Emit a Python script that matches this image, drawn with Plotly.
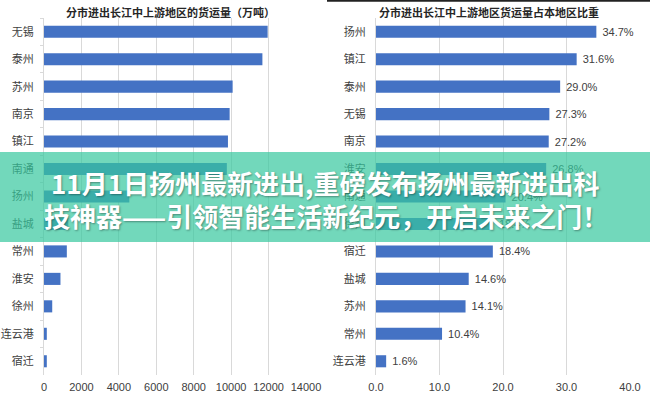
import plotly.graph_objects as go

W, H = 650, 395

# ---- data ----
left_cities = ["无锡", "泰州", "苏州", "南京", "镇江", "南通", "扬州", "盐城", "常州", "淮安", "徐州", "连云港", "宿迁"]
left_values = [11950, 11670, 10080, 9920, 9830, 9770, 4560, 1300, 1220, 880, 440, 150, 150]
left_ticks = [0, 2000, 4000, 6000, 8000, 10000, 12000, 14000]

right_cities = ["扬州", "镇江", "泰州", "无锡", "南京", "淮安", "南通", "徐州", "宿迁", "盐城", "苏州", "常州", "连云港"]
right_values = [34.7, 31.6, 29.0, 27.3, 27.2, 26.8, 20.4, 18.4, 18.4, 14.6, 14.1, 10.4, 1.6]
right_ticks = [0, 10, 20, 30, 40]

left_title = "分市进出长江中上游地区的货运量（万吨）"
right_title = "分市进出长江中上游地区货运量占本地区比重"
banner_line1 = "11月1日扬州最新进出,重磅发布扬州最新进出科"
banner_line2 = "技神器——引领智能生活新纪元，开启未来之门！"

FONT = "Arial, 'Liberation Sans', 'Noto Sans CJK SC', sans-serif"
CJK = "'Noto Sans CJK SC', sans-serif"
BAR = "#4472C4"
GRID = "#D9D9D9"
LABEL = "#404040"


def px_x(p):
    return p / W


def px_y(p):
    return 1 - p / H


fig = go.Figure()
fig.add_trace(go.Bar(
    x=left_values, y=left_cities, orientation="h", width=0.44,
    marker=dict(color=BAR, line=dict(width=0)), xaxis="x", yaxis="y",
    hoverinfo="skip", showlegend=False,
))
fig.add_trace(go.Bar(
    x=right_values, y=right_cities, orientation="h", width=0.44,
    marker=dict(color=BAR, line=dict(width=0)), xaxis="x2", yaxis="y2",
    text=[f"\u00a0{v:.1f}%" for v in right_values], textposition="outside",
    textfont=dict(family=FONT, size=11, color=LABEL), cliponaxis=False,
    hoverinfo="skip", showlegend=False,
))

ydom = [px_y(375), px_y(18)]
fig.update_layout(
    width=W, height=H,
    margin=dict(l=0, r=0, t=0, b=0, autoexpand=False),
    paper_bgcolor="white", plot_bgcolor="white",
    bargap=0.56,
    xaxis=dict(domain=[px_x(44), px_x(306)], range=[0, 14000], tickvals=left_ticks,
               tickformat="d", showgrid=True, gridcolor=GRID, gridwidth=1,
               anchor="free", position=px_y(379),
               showline=False, zeroline=False, automargin=False, fixedrange=True,
               tickfont=dict(family=FONT, size=11, color=LABEL)),
    yaxis=dict(domain=ydom, autorange="reversed", anchor="x", type="category",
               showgrid=False, showline=True, linecolor=GRID,
               ticks="outside", tickson="boundaries", ticklen=3, tickcolor=GRID,
               ticklabelstandoff=7, automargin=False,
               tickfont=dict(family=CJK, size=11, color=LABEL), zeroline=False, fixedrange=True),
    xaxis2=dict(domain=[px_x(376), px_x(630)], range=[0, 40], tickvals=right_ticks,
                ticksuffix="%", tickformat=".1f",
                showgrid=True, gridcolor=GRID, gridwidth=1,
                anchor="free", position=px_y(379),
                showline=False, zeroline=False, automargin=False, fixedrange=True,
                tickfont=dict(family=FONT, size=11, color=LABEL)),
    yaxis2=dict(domain=ydom, autorange="reversed", anchor="x2", type="category",
                showgrid=False, showline=True, linecolor=GRID,
                ticks="", ticklabelstandoff=7, automargin=False,
                tickfont=dict(family=CJK, size=11, color=LABEL), zeroline=False, fixedrange=True),
)

shapes = [
    # dark top border of right panel
    dict(type="line", xref="paper", yref="paper", x0=px_x(327), x1=1, y0=px_y(0.8), y1=px_y(0.8),
         line=dict(color="#222222", width=2), layer="above"),
    # translucent banner
    dict(type="rect", xref="paper", yref="paper", x0=0, x1=1, y0=px_y(242), y1=px_y(152),
         fillcolor="rgba(54,199,158,0.70)", line=dict(width=0), layer="above"),
]
fig.update_layout(shapes=shapes)

annotations = [
    dict(text=left_title, x=px_x(170), y=px_y(12.5), xref="paper", yref="paper",
         showarrow=False, xanchor="center", yanchor="middle",
         font=dict(family=CJK, size=11, color="#262626", weight="bold")),
    dict(text=right_title, x=px_x(489), y=px_y(12.5), xref="paper", yref="paper",
         showarrow=False, xanchor="center", yanchor="middle",
         font=dict(family=CJK, size=11, color="#262626", weight="bold")),
    dict(text=banner_line1, x=px_x(325), y=px_y(182), xref="paper", yref="paper",
         showarrow=False, xanchor="center", yanchor="middle",
         font=dict(family=CJK, size=26, color="white", weight="bold",
                   shadow="1px 1px 2px rgba(0,0,0,0.35)")),
    dict(text=banner_line2, x=px_x(326), y=px_y(215), xref="paper", yref="paper",
         showarrow=False, xanchor="center", yanchor="middle",
         font=dict(family=CJK, size=26, color="white", weight="bold",
                   shadow="1px 1px 2px rgba(0,0,0,0.35)")),
]
fig.update_layout(annotations=annotations)

fig.write_html("out.html", config={"displayModeBar": False},
               post_script="document.body.style.margin='0';")
